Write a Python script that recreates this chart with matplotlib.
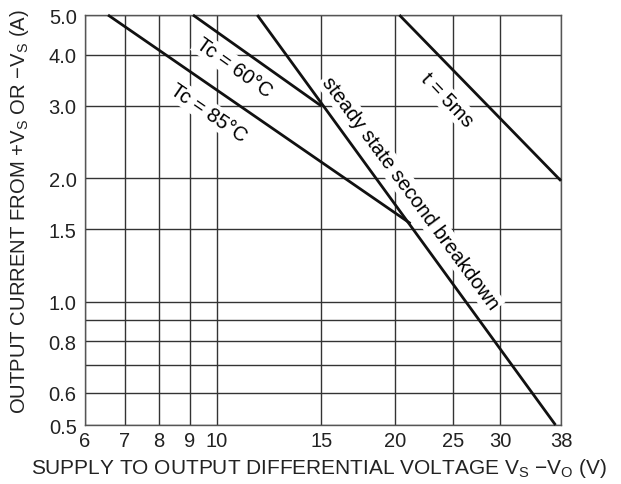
import matplotlib
matplotlib.use("Agg")
import matplotlib.pyplot as plt
from matplotlib.ticker import FixedLocator, FixedFormatter, NullLocator

plt.rcParams['font.family'] = ['Liberation Sans', 'DejaVu Sans']
plt.rcParams['mathtext.fontset'] = 'custom'
plt.rcParams['mathtext.rm'] = 'Liberation Sans'

# Data
x_ticks = [6, 7, 8, 9, 10, 15, 20, 25, 30, 38]
x_labels = ["6", "7", "8", "9", "10", "15", "20", "25", "30", "38"]
y_ticks = [0.5, 0.6, 0.7, 0.8, 0.9, 1.0, 1.5, 2.0, 3.0, 4.0, 5.0]
y_labels = ["0.5", "0.6", "", "0.8", "", "1.0", "1.5", "2.0", "3.0", "4.0", "5.0"]

tc85_v = [6.56, 21.2]
tc85_i = [5.0, 1.55]
tc60_v = [9.12, 15.0]
tc60_i = [5.0, 3.0]
steady_v = [11.7, 37.2]
steady_i = [5.0, 0.5]
t5ms_v = [20.3, 38.0]
t5ms_i = [5.0, 1.97]

fig = plt.figure(figsize=(6.21, 4.85), dpi=100)
ax = fig.add_axes([0.1369, 0.1216, 0.7665, 0.8454])
ax.set_xscale('log')
ax.set_yscale('log')
ax.set_xlim(6, 38)
ax.set_ylim(0.5, 5.0)

ax.xaxis.set_major_locator(FixedLocator(x_ticks))
ax.xaxis.set_major_formatter(FixedFormatter(x_labels))
ax.xaxis.set_minor_locator(NullLocator())
ax.yaxis.set_major_locator(FixedLocator(y_ticks))
ax.yaxis.set_major_formatter(FixedFormatter(y_labels))
ax.yaxis.set_minor_locator(NullLocator())

ax.grid(True, which='major', color='#333333', linewidth=1.0)
ax.set_axisbelow(True)
ax.tick_params(length=0, labelsize=14.5, colors='#222222')
ax.tick_params(axis='y', pad=6)
ax.tick_params(axis='x', pad=4)
for s in ax.spines.values():
    s.set_color('#555555')
    s.set_linewidth(1.0)

lw = 2.0
for xv, yv in [(tc85_v, tc85_i), (tc60_v, tc60_i), (steady_v, steady_i), (t5ms_v, t5ms_i)]:
    ax.plot(xv, yv, color='#111111', linewidth=lw, solid_capstyle='butt', zorder=3, clip_on=False)

bbox = dict(facecolor='white', edgecolor='none', pad=1.5)
fs = 14.5
ax.text(10.7, 3.73, "Tc = 60°C", rotation=-35.5, ha='center', va='center',
        fontsize=fs, bbox=bbox, zorder=2, rotation_mode='anchor')
ax.text(9.67, 2.9, "Tc = 85°C", rotation=-34.5, ha='center', va='center',
        fontsize=fs, bbox=bbox, zorder=2, rotation_mode='anchor')
ax.text(21.2, 1.84, "steady state second breakdown", rotation=-53.5, ha='center', va='center',
        fontsize=fs, bbox=bbox, zorder=2, rotation_mode='anchor')
ax.text(24.4, 3.12, "t = 5ms", rotation=-46.5, ha='center', va='center',
        fontsize=fs, bbox=bbox, zorder=2, rotation_mode='anchor')

ax.set_xlabel(r"SUPPLY TO OUTPUT DIFFERENTIAL VOLTAGE V$_\mathregular{S}$ $\mathregular{-}$V$_\mathregular{O}$ (V)",
              fontsize=15, color='#222222')
ax.set_ylabel(r"OUTPUT CURRENT FROM +V$_\mathregular{S}$ OR $\mathregular{-}$V$_\mathregular{S}$ (A)",
              fontsize=14.6, color='#222222')
ax.xaxis.set_label_coords(0.492, -0.076)
ax.yaxis.set_label_coords(-0.113, 0.524)

fig.savefig("out.png", dpi=100)
